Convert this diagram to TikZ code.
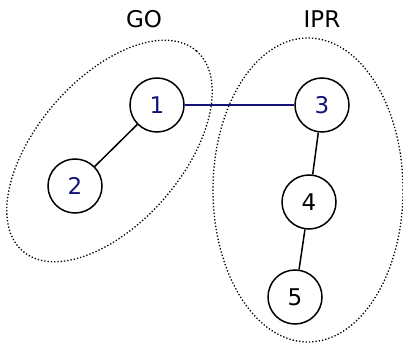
\documentclass[tikz,border=0pt]{standalone}
\usepackage{fontspec}
\setmainfont{DejaVu Sans}
\usetikzlibrary{automata}
\definecolor{navy}{RGB}{20,20,120}

\begin{document}
\begin{tikzpicture}[x=1pt,y=-1pt,font=\fontsize{23}{27}\selectfont,
    vertex/.style={state,line width=1.5pt,minimum size=54pt,inner sep=0pt},
    group/.style={draw,dotted,line width=1.3pt}]
    \useasboundingbox (0,0) rectangle (403,344);
    % groups
    \coordinate (go)  at (109.5,151);
    \coordinate (ipr) at (308,190);
    \draw[group,rotate around={49:(go)}] (go) ellipse (132.5pt and 72.5pt);
    \draw[group] (ipr) ellipse (95pt and 152pt);
    \node (golabel)  at (144,19) {GO};
    \node (iprlabel) at (322,19) {IPR};
    % vertices
    \node[vertex,text=navy] (1) at (157,105) {1};
    \node[vertex,text=navy] (2) at (75,186)  {2};
    \node[vertex,text=navy] (3) at (322,105) {3};
    \node[vertex]           (4) at (309,202) {4};
    \node[vertex]           (5) at (295,297) {5};
    \path[draw,line width=1.5pt]
                (1)     edge  (2)
                (3)     edge  (4)
                (4)     edge  (5)
                ;
    \path[draw,navy,line width=1.6pt] (1) edge (3);
\end{tikzpicture}
\end{document}
